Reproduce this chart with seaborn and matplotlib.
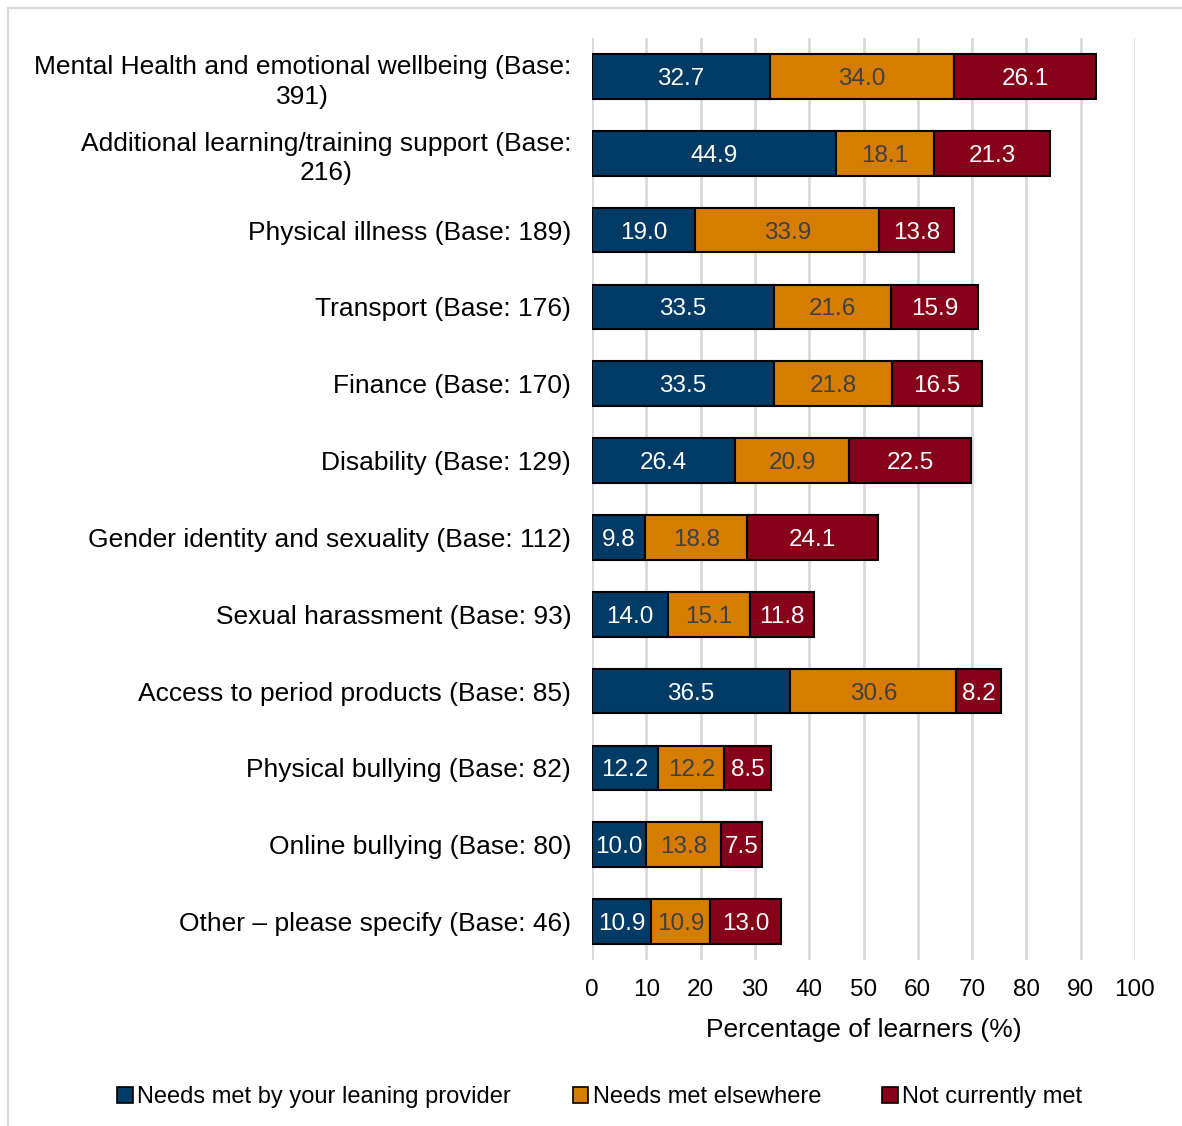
import matplotlib
matplotlib.use("Agg")
import matplotlib.pyplot as plt
import seaborn as sns
import pandas as pd
import numpy as np
from matplotlib.patches import Rectangle, Patch

categories = [
    "Mental Health and emotional wellbeing (Base:\n391)",
    "Additional learning/training support (Base:\n216)",
    "Physical illness (Base: 189)",
    "Transport (Base: 176)",
    "Finance (Base: 170)",
    "Disability (Base: 129)",
    "Gender identity and sexuality (Base: 112)",
    "Sexual harassment (Base: 93)",
    "Access to period products (Base: 85)",
    "Physical bullying (Base: 82)",
    "Online bullying (Base: 80)",
    "Other \u2013 please specify (Base: 46)",
]
met_by_provider = [32.7, 44.9, 19.0, 33.5, 33.5, 26.4, 9.8, 14.0, 36.5, 12.2, 10.0, 10.9]
met_elsewhere = [34.0, 18.1, 33.9, 21.6, 21.8, 20.9, 18.8, 15.1, 30.6, 12.2, 13.8, 10.9]
not_met = [26.1, 21.3, 13.8, 15.9, 16.5, 22.5, 24.1, 11.8, 8.2, 8.5, 7.5, 13.0]
series_names = ["Needs met by your leaning provider", "Needs met elsewhere", "Not currently met"]
x_ticks = list(range(0, 101, 10))

colors = ["#003B66", "#D67D00", "#850018"]
text_colors = ["white", "#404040", "white"]

sns.set_theme(style="white")
plt.rcParams["font.family"] = ["Liberation Sans", "DejaVu Sans"]
plt.rcParams["text.color"] = "black"
plt.rcParams["xtick.color"] = "black"
plt.rcParams["ytick.color"] = "black"
plt.rcParams["axes.labelcolor"] = "black"

fig = plt.figure(figsize=(11.82, 11.26), dpi=100)
ax = fig.add_axes([592 / 1182, 1 - 960 / 1126, (1135 - 592) / 1182, (960 - 38) / 1126])

# outer frame of the figure
fig.patches.append(Rectangle((8 / 1182, -0.01), 1.1, 1 - 8 / 1126 + 0.01,
                             transform=fig.transFigure, fill=False,
                             edgecolor="#D9D9D9", linewidth=1.5, zorder=0))

series = [met_by_provider, met_elsewhere, not_met]
df = pd.DataFrame({"category": categories})
left = np.zeros(len(categories))
for name, vals, col, tcol in zip(series_names, series, colors, text_colors):
    df["value"] = vals
    sns.barplot(data=df, y="category", x="value", orient="h", color=col,
                ax=ax, width=0.58, edgecolor="black", linewidth=1.5,
                saturation=1, zorder=3)
    bars = ax.patches[-len(categories):]
    for b, l, v in zip(bars, left, vals):
        b.set_x(l)
        ax.text(l + v / 2, b.get_y() + b.get_height() / 2, f"{v:.1f}",
                ha="center", va="center_baseline", color=tcol, fontsize=17.5, zorder=4)
    left = left + np.array(vals)

ax.set_xlim(0, 100)
ax.set_ylim(len(categories) - 0.5, -0.5)
ax.set_xticks(x_ticks)
ax.set_xticklabels([str(t) for t in x_ticks], fontsize=17.5)
ax.tick_params(axis="y", labelsize=19, length=0, pad=15)
ax.tick_params(axis="x", length=0, pad=14)
ax.set_yticks(range(len(categories)))
ax.set_yticklabels(categories, ha="right", multialignment="center", linespacing=1.3)
ax.set_ylabel("")
ax.set_xlabel("Percentage of learners (%)", fontsize=19, labelpad=12)
ax.grid(axis="x", color="#D9D9D9", linewidth=2, zorder=0)
ax.set_axisbelow(True)
for s in ax.spines.values():
    s.set_visible(False)

handles = [Patch(facecolor=c, edgecolor="black", linewidth=1.2) for c in colors]
fig.legend(handles, series_names, loc="center", bbox_to_anchor=(600 / 1182, 1 - 1097 / 1126),
           ncol=3, frameon=False, fontsize=17, handlelength=0.65, handleheight=0.65,
           handletextpad=0.2, columnspacing=2.6)

fig.savefig("out.png", dpi=100)
